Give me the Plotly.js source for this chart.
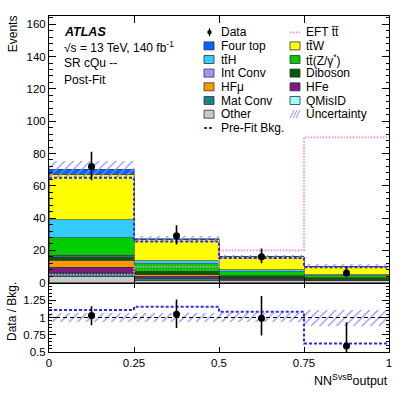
<!DOCTYPE html>
<html>
<head>
<meta charset="utf-8">
<script src="https://cdn.plot.ly/plotly-3.0.1.min.js"></script>
<style>
  html, body { margin: 0; padding: 0; background: #fff; }
  #chart { width: 407px; height: 393px; }
</style>
</head>
<body>
<div id="chart"></div>
<script>
const binCenters = [0.125, 0.375, 0.625, 0.875];
const binEdges = [0, 0.25, 0.5, 0.75, 1];
const xTickVals = [0, 0.25, 0.5, 0.75, 1];
const xTickText = ['0', '0.25', '0.5', '0.75', '1'];

// post-fit backgrounds, stacked bottom to top
const other    = [3.8, 1.5, 1.5, 1.2];
const matConv  = [2.0, 1.0, 0.4, 0.2];
const qMisID   = [0.3, 0.3, 0.2, 0.1];
const hfE      = [3.5, 1.2, 0.6, 0.4];
const hfMu     = [4.3, 0.8, 0.4, 0.2];
const diboson  = [2.2, 2.0, 1.2, 1.0];
const intConv  = [0.9, 0.3, 0.1, 0.1];
const ttZ      = [10.9, 4.5, 2.5, 1.2];
const ttH      = [11.2, 2.0, 1.0, 0.4];
const ttW      = [28.0, 12.9, 8.1, 5.4];
const fourTop  = [3.1, 0.7, 0.1, 0.1];

const relUnc = [0.07, 0.07, 0.07, 0.115];

const dataVals = [72, 29, 16, 6];
const dataErrUp = [9.0, 6.5, 5.1, 3.6];
const dataErrDown = [8.5, 5.3, 4.0, 2.4];

const prefitBkg = [65, 25.5, 15.3, 9.6];
const eftTT = [5, 10, 20, 90];

const ratioVals = [1.03, 1.045, 0.99, 0.59];
const ratioErrUp = [0.13, 0.215, 0.32, 0.34];
const ratioErrDown = [0.14, 0.195, 0.25, 0.24];
const prefitRatio = [1.106, 1.154, 1.083, 0.627];

const stack = [
  { name: 'Other', y: other, color: '#c8c8c8' },
  { name: 'Mat Conv', y: matConv, color: '#178585' },
  { name: 'QMisID', y: qMisID, color: '#99ffff' },
  { name: 'HFe', y: hfE, color: '#7f1a7f' },
  { name: 'HFμ', y: hfMu, color: '#ff9900' },
  { name: 'Diboson', y: diboson, color: '#005a00' },
  { name: 'Int Conv', y: intConv, color: '#9999ff' },
  { name: 'tt̄(Z/γ*)', y: ttZ, color: '#00cc00' },
  { name: 'tt̄H', y: ttH, color: '#33ccff' },
  { name: 'tt̄W', y: ttW, color: '#ffff00' },
  { name: 'Four top', y: fourTop, color: '#0066ff' }
];

const W = 407, H = 393;
const px = x => x / W;
const py = y => 1 - y / H;
const FONT = 'Liberation Sans, Arial, sans-serif';
const HATCH = '#8c8cff';
const PINK = '#ff88dd';
const PREFIT = '#2b2bff';

const total = binCenters.map((_, i) => stack.reduce((s, c) => s + c.y[i], 0));
const step = vals => vals.concat(vals[vals.length - 1]);

const traces = [];

stack.forEach(s => {
  traces.push({
    type: 'bar', x: binCenters, y: s.y, width: 0.25, name: s.name,
    xaxis: 'x2', yaxis: 'y2',
    marker: { color: s.color, line: { color: '#333', width: 0.6 } },
    hoverinfo: 'skip'
  });
});

// uncertainty band on top of the stack
traces.push({
  type: 'bar', x: binCenters, width: 0.25,
  base: total.map((t, i) => t - t * relUnc[i]),
  y: total.map((t, i) => 2 * t * relUnc[i]),
  xaxis: 'x2', yaxis: 'y3',
  marker: { color: 'rgba(0,0,0,0)', line: { width: 0 },
    pattern: { shape: '/', fgcolor: HATCH, size: 6, solidity: 0.2 } },
  hoverinfo: 'skip'
});

traces.push({
  type: 'scatter', mode: 'lines', x: binEdges, y: step(eftTT),
  xaxis: 'x2', yaxis: 'y3',
  line: { shape: 'hv', color: PINK, width: 1.8, dash: '1.5px,1.5px' }
});

traces.push({
  type: 'scatter', mode: 'lines', x: binEdges, y: step(prefitBkg),
  xaxis: 'x2', yaxis: 'y3',
  line: { shape: 'hv', color: PREFIT, width: 2, dash: '3px,2px' }
});

traces.push({
  type: 'scatter', mode: 'markers', x: binCenters, y: dataVals,
  xaxis: 'x2', yaxis: 'y3',
  marker: { color: 'black', size: 7 },
  error_y: { type: 'data', symmetric: false, array: dataErrUp, arrayminus: dataErrDown,
    color: 'black', thickness: 1.6, width: 0 }
});

// ratio panel
traces.push({
  type: 'bar', x: binCenters, width: 0.25,
  base: relUnc.map(r => 1 - r),
  y: relUnc.map(r => 2 * r),
  xaxis: 'x', yaxis: 'y',
  marker: { color: 'rgba(0,0,0,0)', line: { width: 0 },
    pattern: { shape: '/', fgcolor: HATCH, size: 6, solidity: 0.2 } },
  hoverinfo: 'skip'
});

traces.push({
  type: 'scatter', mode: 'lines', x: binEdges, y: step(prefitRatio),
  xaxis: 'x', yaxis: 'y',
  line: { shape: 'hv', color: PREFIT, width: 2, dash: '3px,2px' }
});

traces.push({
  type: 'scatter', mode: 'markers', x: binCenters, y: ratioVals,
  xaxis: 'x', yaxis: 'y',
  marker: { color: 'black', size: 7 },
  error_y: { type: 'data', symmetric: false, array: ratioErrUp, arrayminus: ratioErrDown,
    color: 'black', thickness: 1.6, width: 0 }
});

const tickFont = { family: FONT, size: 11.5, color: '#000' };
const frame = { showline: true, linecolor: '#000', linewidth: 1, mirror: 'ticks',
  ticks: 'inside', tickcolor: '#000', showgrid: false, zeroline: false, tickfont: tickFont };

const xDomain = [px(49), px(389)];
const mainDomain = [py(282.7), py(15.7)];
const ratioDomain = [py(352.3), py(282.7)];

// hand-made two-column legend (ROOT style, tight rows)
const shapes = [];
const annotations = [];
const rowY = [32.3, 45.9, 59.5, 73.1, 86.8, 100.5, 114.2, 127.9];

function legendText(x, y, text) {
  annotations.push({ xref: 'paper', yref: 'paper', x: px(x), y: py(y), text: text,
    showarrow: false, xanchor: 'left', yanchor: 'middle', font: { family: FONT, size: 12, color: '#000' } });
}
function legendBox(x, y, color) {
  shapes.push({ type: 'rect', xref: 'paper', yref: 'paper', x0: px(x), x1: px(x + 10),
    y0: py(y + 4), y1: py(y - 4), fillcolor: color, line: { color: '#333', width: 0.8 } });
}
function legendLine(x, y, color, width, dash) {
  shapes.push({ type: 'line', xref: 'paper', yref: 'paper', x0: px(x), x1: px(x + 10),
    y0: py(y), y1: py(y), line: { color: color, width: width, dash: dash } });
}

const leftCol = [
  ['Four top', '#0066ff'], ['tt̄H', '#33ccff'], ['Int Conv', '#9999ff'],
  ['HFμ', '#ff9900'], ['Mat Conv', '#178585'], ['Other', '#c8c8c8']
];
const rightCol = [
  ['tt̄W', '#ffff00'], ['tt̄(Z/γ<sup>*</sup>)', '#00cc00'], ['Diboson', '#005a00'],
  ['HFe', '#7f1a7f'], ['QMisID', '#99ffff']
];

// Data entry
shapes.push({ type: 'line', xref: 'paper', yref: 'paper', x0: px(209.5), x1: px(209.5),
  y0: py(rowY[0] + 4), y1: py(rowY[0] - 4), line: { color: '#000', width: 1.2 } });
shapes.push({ type: 'circle', xref: 'paper', yref: 'paper', x0: px(207.3), x1: px(211.7),
  y0: py(rowY[0] + 2.2), y1: py(rowY[0] - 2.2), fillcolor: '#000', line: { color: '#000', width: 0 } });
legendText(219, rowY[0], 'Data');

leftCol.forEach((e, i) => {
  legendBox(204, rowY[i + 1], e[1]);
  legendText(219, rowY[i + 1], e[0]);
});
legendLine(204, rowY[7], PREFIT, 2, '3px,2px');
legendText(219, rowY[7], 'Pre-Fit Bkg.');

legendLine(290, rowY[0], PINK, 1.8, '1.5px,1.5px');
legendText(304, rowY[0], 'EFT t̄t̄');
rightCol.forEach((e, i) => {
  legendBox(290, rowY[i + 1], e[1]);
  legendText(304, rowY[i + 1], e[0]);
});
[0, 3, 6].forEach(o => {
  shapes.push({ type: 'line', xref: 'paper', yref: 'paper',
    x0: px(290 + o), x1: px(294 + o), y0: py(rowY[6] + 4), y1: py(rowY[6] - 4),
    line: { color: HATCH, width: 1 } });
});
legendText(304, rowY[6], 'Uncertainty');

// ratio reference line
shapes.push({ type: 'line', xref: 'x', yref: 'y', x0: 0, x1: 1, y0: 1, y1: 1, layer: 'above',
  line: { color: '#000', width: 1, dash: '4px,3px' } });

const textFont = { family: FONT, size: 12, color: '#000' };
annotations.push(
  { xref: 'paper', yref: 'paper', x: px(62), y: py(32.3), text: '<b><i>ATLAS</i></b>',
    showarrow: false, xanchor: 'left', yanchor: 'middle', font: { family: FONT, size: 12.5, color: '#000' } },
  { xref: 'paper', yref: 'paper', x: px(62), y: py(46.5), text: '√s = 13 TeV, 140 fb<sup>-1</sup>',
    showarrow: false, xanchor: 'left', yanchor: 'middle', font: textFont },
  { xref: 'paper', yref: 'paper', x: px(62), y: py(63.3), text: 'SR cQu --',
    showarrow: false, xanchor: 'left', yanchor: 'middle', font: textFont },
  { xref: 'paper', yref: 'paper', x: px(62), y: py(80), text: 'Post-Fit',
    showarrow: false, xanchor: 'left', yanchor: 'middle', font: textFont },
  { xref: 'paper', yref: 'paper', x: px(13.3), y: py(34), text: 'Events', textangle: -90,
    showarrow: false, xanchor: 'center', yanchor: 'middle', font: textFont },
  { xref: 'paper', yref: 'paper', x: px(12), y: py(312), text: 'Data / Bkg.', textangle: -90,
    showarrow: false, xanchor: 'center', yanchor: 'middle', font: textFont },
  { xref: 'paper', yref: 'paper', x: px(390), y: py(380), text: 'NN<sup>SvsB</sup>output',
    showarrow: false, xanchor: 'right', yanchor: 'middle', font: { family: FONT, size: 12.5, color: '#000' } }
);

const layout = {
  width: W, height: H,
  margin: { l: 0, r: 0, t: 0, b: 0 },
  paper_bgcolor: '#fff', plot_bgcolor: 'rgba(0,0,0,0)',
  barmode: 'stack', bargap: 0,
  showlegend: false,
  font: { family: FONT, color: '#000' },
  xaxis: Object.assign({}, frame, { domain: xDomain, anchor: 'y', range: [0, 1],
    tickvals: xTickVals, ticktext: xTickText, ticklen: 5 }),
  yaxis: Object.assign({}, frame, { domain: ratioDomain, anchor: 'x', range: [0.5, 1.5],
    tickvals: [0.5, 0.75, 1, 1.25], ticktext: ['0.5', '0.75', '1', '1.25'], ticklen: 7,
    minor: { dtick: 0.05, ticks: 'inside', ticklen: 3, tickcolor: '#000' } }),
  xaxis2: Object.assign({}, frame, { domain: xDomain, anchor: 'y2', range: [0, 1],
    tickvals: xTickVals, showticklabels: false, ticklen: 7 }),
  yaxis2: Object.assign({}, frame, { domain: mainDomain, anchor: 'x2', range: [0, 165.3],
    tick0: 0, dtick: 20, ticklen: 7,
    minor: { dtick: 4, ticks: 'inside', ticklen: 3.5, tickcolor: '#000' } }),
  yaxis3: { overlaying: 'y2', anchor: 'x2', range: [0, 165.3], visible: false },
  shapes: shapes,
  annotations: annotations
};

Plotly.newPlot('chart', traces, layout, { staticPlot: true });
</script>
</body>
</html>
